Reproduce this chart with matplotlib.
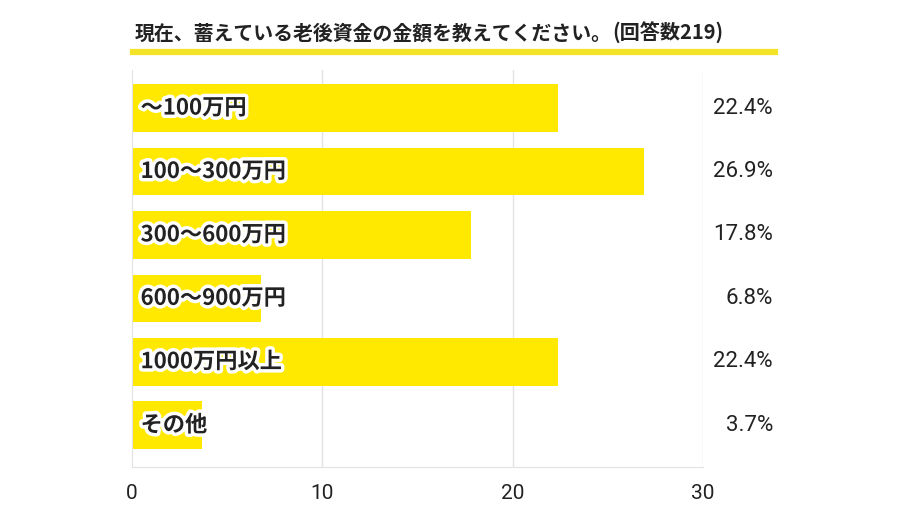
import matplotlib.pyplot as plt
import matplotlib.patheffects as pe

plt.rcParams['font.family'] = ['Noto Sans CJK JP', 'DejaVu Sans']

title = '現在、蓄えている老後資金の金額を教えてください。'
sub = '(回答数219)'
categories = ['〜100万円', '100〜300万円', '300〜600万円', '600〜900万円', '1000万円以上', 'その他']
values = [22.4, 26.9, 17.8, 6.8, 22.4, 3.7]
xticks = [0, 10, 20, 30]

yellow = '#FFE900'
num_font = ['Liberation Sans Narrow', 'Roboto', 'DejaVu Sans']

fig = plt.figure(figsize=(9, 5.23), dpi=100)
ax = fig.add_axes([132 / 900, 1 - 467 / 523, (703 - 132) / 900, (467 - 70) / 523])

ypos = list(range(len(categories)))
ax.barh(ypos, values, height=0.75, color=yellow, zorder=2)
ax.set_ylim(len(categories) - 0.34, -0.6)
ax.set_xlim(0, 30)

for x in xticks[1:]:
    ax.axvline(x, color='#e2e2e2', lw=1, zorder=1)
for s in ['top', 'right']:
    ax.spines[s].set_visible(False)
for s in ['left', 'bottom']:
    ax.spines[s].set_color('#e2e2e2')
ax.set_yticks([])
ax.set_xticks(xticks)
ax.set_xticklabels([str(t) for t in xticks], family=num_font, fontsize=15, color='#222222')
ax.tick_params(axis='x', length=0, pad=12)

for y, cat in zip(ypos, categories):
    ax.text(0.45, y, cat, va='center', ha='left', fontsize=16, fontweight='bold',
            color='#222222', zorder=3,
            path_effects=[pe.withStroke(linewidth=5, foreground='white')])

# value labels right-aligned outside the plot, at bar centres
for y, v in zip(ypos, values):
    disp = ax.transData.transform((0, y))
    fy = fig.transFigure.inverted().transform(disp)[1]
    fig.text(773 / 900, fy, f'{v}%', fontsize=16, family=num_font,
             color='#222222', ha='right', va='center')

t = fig.text(135 / 900, 1 - 33 / 523, title, fontsize=14.3, fontweight='bold',
             color='#222222', va='center', ha='left')
fig.canvas.draw()
bb = t.get_window_extent()
fig.text(bb.x1 / 900, 1 - 33 / 523, sub, fontsize=14.5, fontweight='bold',
         color='#222222', va='center', ha='left')

fig.add_artist(plt.Line2D([133 / 900, 775 / 900], [1 - 52 / 523, 1 - 52 / 523],
                          color='#F3E42A', lw=4.5, transform=fig.transFigure))

fig.savefig('out.png', dpi=100, facecolor='white')
